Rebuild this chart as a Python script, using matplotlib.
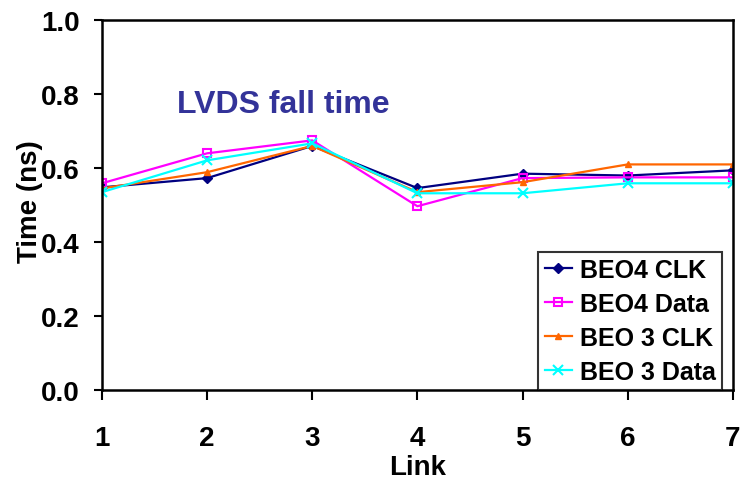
import matplotlib
matplotlib.use("Agg")
import matplotlib.pyplot as plt

plt.rcParams['font.family'] = ['Liberation Sans', 'DejaVu Sans']
plt.rcParams['font.weight'] = 'bold'

links = [1, 2, 3, 4, 5, 6, 7]
beo4_clk = [0.548, 0.573, 0.660, 0.546, 0.585, 0.580, 0.594]
beo4_data = [0.559, 0.640, 0.675, 0.497, 0.573, 0.575, 0.575]
beo3_clk = [0.545, 0.589, 0.660, 0.535, 0.562, 0.610, 0.610]
beo3_data = [0.535, 0.621, 0.667, 0.532, 0.532, 0.559, 0.559]

fig = plt.figure(figsize=(7.44, 4.81), dpi=100)
ax = fig.add_axes([0.137, 0.187, 0.848, 0.769])

ax.plot(links, beo4_clk, color='#000080', marker='D', ms=5, lw=1.6, label='BEO4 CLK')
ax.plot(links, beo4_data, color='#FF00FF', marker='s', ms=6, mfc='none', mew=1.5, lw=1.6, label='BEO4 Data')
ax.plot(links, beo3_clk, color='#FF6600', marker='^', ms=5, lw=1.6, label='BEO 3 CLK')
ax.plot(links, beo3_data, color='#00FFFF', marker='x', ms=7, mew=1.5, lw=1.6, label='BEO 3 Data')

ax.set_xlim(1, 7)
ax.set_ylim(0, 1.0)
ax.set_xticks(links)
ax.set_yticks([0.0, 0.2, 0.4, 0.6, 0.8, 1.0])
ax.set_yticklabels(['0.0', '0.2', '0.4', '0.6', '0.8', '1.0'])
ax.tick_params(axis='both', direction='out', width=1.5, labelsize=20)
ax.tick_params(axis='x', length=7, pad=18)
ax.tick_params(axis='y', length=6, pad=10)
for s in ax.spines.values():
    s.set_linewidth(1.8)

ax.set_xlabel('Link', fontsize=20, fontweight='bold')
ax.set_ylabel('Time (ns)', fontsize=20, fontweight='bold')
ax.xaxis.set_label_coords(0.5, -0.172)
ax.yaxis.set_label_coords(-0.094, 0.511)

ax.text(0.119, 0.751, 'LVDS fall time', transform=ax.transAxes, fontsize=23,
        fontweight='bold', color='#333399', va='baseline')

leg = ax.legend(loc='lower right', fontsize=18, frameon=True, fancybox=False,
                edgecolor='black', borderaxespad=0.0, handlelength=1.1,
                handletextpad=0.3, labelspacing=0.4, borderpad=0.25,
                bbox_to_anchor=(0.9826, 0.0))
leg.get_frame().set_linewidth(1.5)

fig.savefig('out.png', dpi=100)
